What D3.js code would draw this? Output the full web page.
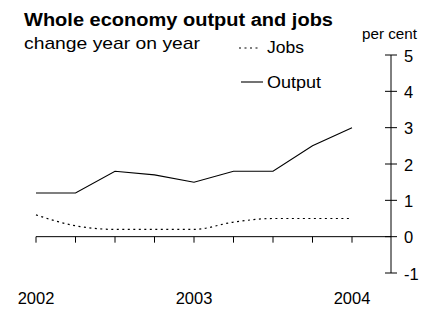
<!DOCTYPE html>
<html>
<head>
<meta charset="utf-8">
<title>Whole economy output and jobs</title>
<script src="https://d3js.org/d3.v7.min.js"></script>
<style>
  body { margin: 0; background: #fff; }
  text { font-family: "Liberation Sans", Arial, sans-serif; fill: #000; }
</style>
</head>
<body>
<script>
// quarterly, 2002 Q1 to 2004 Q1
var quarters = [0, 1, 2, 3, 4, 5, 6, 7, 8];
var output = [1.2, 1.2, 1.8, 1.7, 1.5, 1.8, 1.8, 2.5, 3.0];
var jobs = [0.6, 0.3, 0.2, 0.2, 0.2, 0.4, 0.5, 0.5, 0.5];
var yearLabels = ["2002", "2003", "2004"];
var yTicks = [-1, 0, 1, 2, 3, 4, 5];

var width = 439, height = 309;

var svg = d3.select("body").append("svg")
    .attr("width", width)
    .attr("height", height);

var x = d3.scaleLinear().domain([0, 8]).range([36, 352]);
var y = d3.scaleLinear().domain([-1, 5]).range([273, 55]);
var axisX = 391;

// titles (the original type is set wide, so stretch to its measured widths)
svg.append("text").attr("x", 24).attr("y", 26)
    .style("font-weight", "bold").style("font-size", "18px")
    .attr("textLength", 309).attr("lengthAdjust", "spacingAndGlyphs")
    .text("Whole economy output and jobs");
svg.append("text").attr("x", 24).attr("y", 49)
    .style("font-size", "17px")
    .attr("textLength", 176).attr("lengthAdjust", "spacingAndGlyphs")
    .text("change year on year");
svg.append("text").attr("x", 362).attr("y", 39)
    .style("font-size", "14px")
    .attr("textLength", 55).attr("lengthAdjust", "spacingAndGlyphs")
    .text("per cent");

// y axis on the right, ticks crossing the line
var yAxis = svg.append("g").attr("transform", "translate(" + axisX + ",0)");
yAxis.append("line").attr("y1", y(5)).attr("y2", y(-1)).attr("stroke", "#000");
yAxis.selectAll(".tk").data(yTicks).enter().append("line")
    .attr("x1", -6).attr("x2", 6)
    .attr("y1", function(d) { return y(d); })
    .attr("y2", function(d) { return y(d); })
    .attr("stroke", "#000");
yAxis.selectAll(".lb").data(yTicks).enter().append("text")
    .attr("x", 13)
    .attr("y", function(d) { return y(d); })
    .attr("dy", "0.4em")
    .style("font-size", "16.5px")
    .text(function(d) { return d; });

// x axis at zero
var xAxis = svg.append("g").attr("transform", "translate(0," + y(0) + ")");
xAxis.append("line").attr("x1", x(0)).attr("x2", axisX).attr("stroke", "#000");
xAxis.selectAll(".tk").data(quarters).enter().append("line")
    .attr("x1", function(d) { return x(d); })
    .attr("x2", function(d) { return x(d); })
    .attr("y1", 0).attr("y2", 6)
    .attr("stroke", "#000");

svg.selectAll(".yr").data(yearLabels).enter().append("text")
    .attr("x", function(d, i) { return x(i * 4); })
    .attr("y", 304)
    .attr("text-anchor", "middle")
    .style("font-size", "16.5px")
    .text(function(d) { return d; });

// lines
var line = d3.line()
    .x(function(d, i) { return x(quarters[i]); })
    .y(function(d) { return y(d); });

svg.append("path").datum(output)
    .attr("d", line)
    .attr("fill", "none").attr("stroke", "#000").attr("stroke-width", 1.1);

svg.append("path").datum(jobs)
    .attr("d", line.curve(d3.curveMonotoneX))
    .attr("fill", "none").attr("stroke", "#000").attr("stroke-width", 1.2)
    .attr("stroke-dasharray", "2,3.5");

// legend
svg.append("line").attr("x1", 239).attr("x2", 261).attr("y1", 48).attr("y2", 48)
    .attr("stroke", "#000").attr("stroke-width", 1.2).attr("stroke-dasharray", "2,3.5");
svg.append("text").attr("x", 267).attr("y", 53)
    .style("font-size", "17px")
    .attr("textLength", 37).attr("lengthAdjust", "spacingAndGlyphs")
    .text("Jobs");
svg.append("line").attr("x1", 241).attr("x2", 263).attr("y1", 82).attr("y2", 82)
    .attr("stroke", "#000").attr("stroke-width", 1.1);
svg.append("text").attr("x", 267).attr("y", 88)
    .style("font-size", "17px")
    .attr("textLength", 54).attr("lengthAdjust", "spacingAndGlyphs")
    .text("Output");
</script>
</body>
</html>
